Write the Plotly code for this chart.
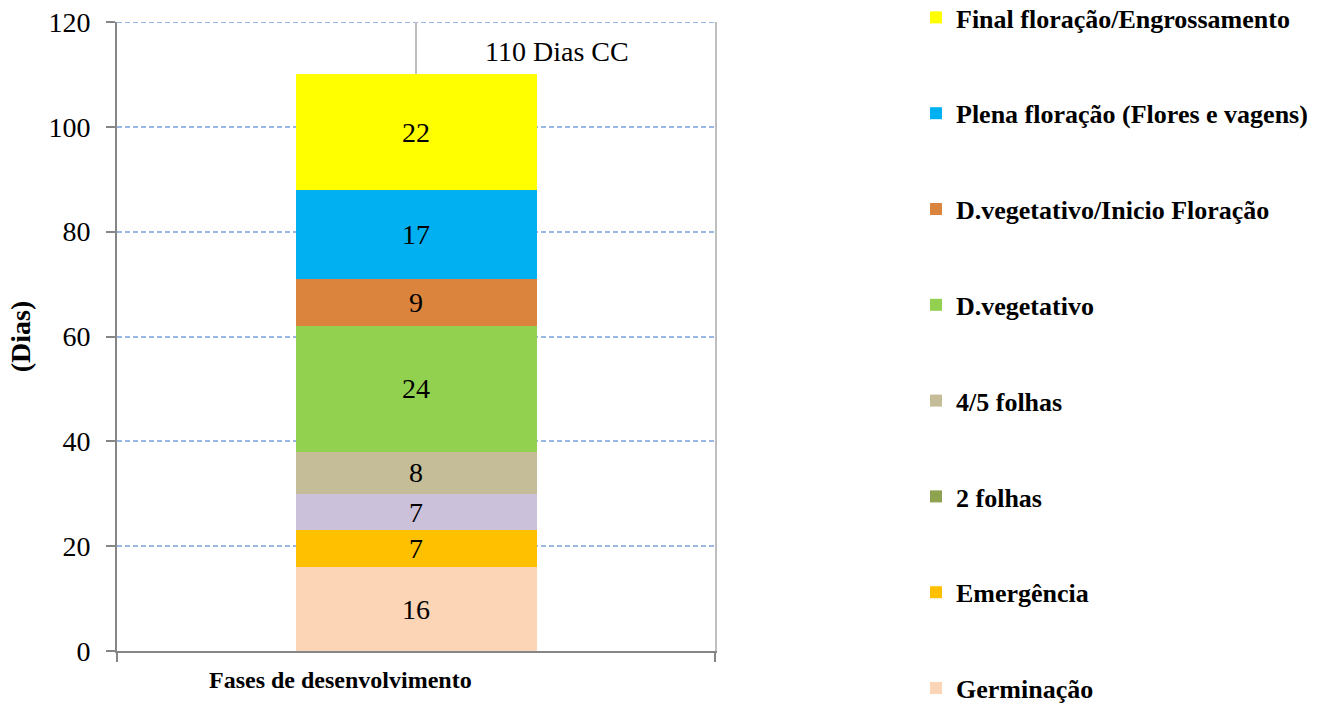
import plotly.graph_objects as go

category = ["Fases de desenvolvimento"]
phases = ["Germinação", "Emergência", "2 folhas", "4/5 folhas", "D.vegetativo",
          "D.vegetativo/Inicio Floração", "Plena floração (Flores e vagens)",
          "Final floração/Engrossamento"]
days = [16, 7, 7, 8, 24, 9, 17, 22]
bar_colors = ["#fbd5b5", "#ffc000", "#ccc1da", "#c4bd97", "#92d050",
              "#da843e", "#00b0f0", "#ffff00"]
legend_colors = ["#fbd5b5", "#ffc000", "#8ea350", "#c4bd97", "#92d050",
                 "#da843e", "#00b0f0", "#ffff00"]
total_label = "110 Dias CC"
y_ticks = [0, 20, 40, 60, 80, 100, 120]

SERIF = "Liberation Serif"
GRID = "#9ab7e6"
W, H = 1324, 704
L, R, T, B = 117, 609, 22, 53

fig = go.Figure()
for i, (name, val, bc, lc) in enumerate(zip(phases, days, bar_colors, legend_colors)):
    same = bc == lc
    rank = 100 - i
    fig.add_trace(go.Bar(
        x=[0], y=[val], name=name, width=0.403,
        marker=dict(color=bc, line=dict(width=0)),
        text=[val], texttemplate="%{y}", textposition="inside",
        insidetextanchor="middle", textangle=0,
        textfont=dict(family=SERIF, size=28, color="black"),
        legendgroup=f"g{i}", legendrank=rank, showlegend=same, hoverinfo="name+y",
    ))
    if not same:
        fig.add_trace(go.Bar(
            x=[None], y=[None], name=name,
            marker=dict(color=lc, line=dict(width=0)),
            legendgroup=f"g{i}", legendrank=rank, showlegend=True,
        ))

total = sum(days)
fig.add_shape(type="line", x0=0, x1=0, y0=total, y1=y_ticks[-1],
              xref="x", yref="y", line=dict(color="#bfbfbf", width=2), layer="below")
# top gridline (at the range edge)
fig.add_shape(type="line", x0=0, x1=1, y0=y_ticks[-1], y1=y_ticks[-1],
              xref="paper", yref="y", line=dict(color=GRID, width=2, dash="5px,3px"),
              layer="below")

fig.add_annotation(x=0.236, y=114.3, xref="x", yref="y", text=total_label,
                   showarrow=False, font=dict(family=SERIF, size=28, color="black"))

fig.add_annotation(x=(340 - L) / (W - L - R), y=0, xref="paper", yref="paper",
                   yshift=-29, yanchor="middle", text="<b>Fases de desenvolvimento</b>",
                   showarrow=False, font=dict(family=SERIF, size=24, color="black"))

fig.update_layout(
    width=W, height=H,
    margin=dict(l=L, r=R, t=T, b=B, autoexpand=False),
    paper_bgcolor="white", plot_bgcolor="white",
    barmode="stack",
    uniformtext=dict(minsize=28, mode="show"),
    showlegend=True,
    legend=dict(
        xref="container", yref="paper", x=916 / W, y=1 + 28 / 629,
        xanchor="left", yanchor="top",
        traceorder="grouped", tracegroupgap=59, maxheight=1000,
        font=dict(family=SERIF, size=26, color="black", weight="bold"),
        bgcolor="rgba(0,0,0,0)",
    ),
    xaxis=dict(
        range=[-0.5, 0.5], tickvals=[-0.5, 0.5], ticktext=["", ""],
        ticks="outside", ticklen=9, tickwidth=2, tickcolor="#868686",
        showline=True, linecolor="#868686", linewidth=2,
        showgrid=False, zeroline=False, fixedrange=True,
    ),
    yaxis=dict(
        range=[0, 120], tickvals=y_ticks,
        ticks="outside", ticklen=9, tickwidth=2, tickcolor="#868686",
        ticklabelstandoff=10,
        tickfont=dict(family=SERIF, size=28, color="black"),
        showline=True, linecolor="#868686", linewidth=2,
        showgrid=True, gridcolor=GRID, gridwidth=2, griddash="5px,3px",
        zeroline=False,
        title=dict(text="<b>(Dias)</b>", standoff=10,
                   font=dict(family=SERIF, size=28, color="black")),
    ),
    yaxis2=dict(
        overlaying="y", side="right", range=[0, 120],
        showline=True, linecolor="#bfbfbf", linewidth=2,
        showticklabels=False, ticks="", showgrid=False, zeroline=False,
    ),
)
fig.add_trace(go.Scatter(x=[None], y=[None], yaxis="y2", showlegend=False, hoverinfo="skip"))

fig.write_html("out.html", config={"displayModeBar": False},
               post_script="document.body.style.margin='0px';document.body.style.overflow='hidden';")
